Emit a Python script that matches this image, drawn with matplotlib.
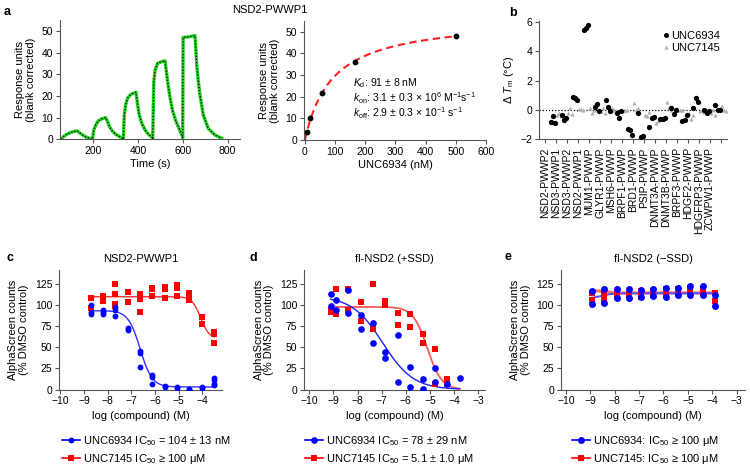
import numpy as np
import matplotlib
matplotlib.use('Agg')
import matplotlib.pyplot as plt
from matplotlib.lines import Line2D

plt.rcParams['font.family'] = ['Liberation Sans', 'DejaVu Sans']
plt.rcParams['font.size'] = 7.5
plt.rcParams['mathtext.fontset'] = 'custom'
plt.rcParams['mathtext.rm'] = 'Liberation Sans'
plt.rcParams['mathtext.it'] = 'Liberation Sans:italic'
plt.rcParams['mathtext.bf'] = 'Liberation Sans:bold'

# ---------------- data ----------------
# panel a (left): SPR sensorgram
spr_time = [56, 66, 81, 100, 121, 129, 141, 156, 170, 193,
            196, 202, 211, 222, 237, 255, 263, 272, 285, 300, 319, 333,
            334, 338, 344, 353, 368, 390, 398, 405, 416, 431, 446, 464,
            465, 470, 476, 487, 505, 520, 528, 535, 543, 553, 568, 583, 598,
            599, 601, 624, 639, 654, 662, 669, 676, 691, 713, 743, 773]
spr_resp = [0.0, 1.2, 2.3, 3.2, 3.8, 3.8, 2.8, 1.7, 0.9, 0.15,
            0.0, 4.3, 6.6, 8.5, 9.4, 10.0, 8.2, 5.8, 3.8, 2.3, 1.1, 0.2,
            0.0, 11.2, 15.8, 19.0, 20.8, 21.7, 15.8, 11.2, 7.4, 4.3, 2.3, 0.8,
            0.0, 26.6, 32.0, 35.0, 35.8, 36.2, 29.7, 24.3, 19.0, 13.5, 8.5, 5.0, 1.2,
            0.5, 47.0, 47.2, 47.5, 47.8, 34.0, 26.6, 20.5, 11.2, 5.0, 2.0, 0.5]

# panel a (right): steady-state binding
conc_nM = [5.6, 17, 55, 167, 500]
resp_eq = [3.8, 10.0, 21.5, 36.0, 48.0]
kd_nM = 91.0
rmax = 56.7

# panel b: thermal shift
b_targets = ['NSD2-PWWP2', 'NSD3-PWWP1', 'NSD3-PWWP2', 'NSD2-PWWP1', 'MUM1-PWWP',
             'GLYR1-PWWP', 'MSH6-PWWP', 'BRPF1-PWWP', 'BRD1-PWWP', 'PSIP-PWWP',
             'DNMT3A-PWWP', 'DNMT3B-PWWP', 'BRPF3-PWWP', 'HDGF2-PWWP', 'HDGFRP3-PWWP',
             'ZCWPW1-PWWP']
b_unc6934 = [[-0.84, -0.45, -0.89], [-0.35, -0.7, -0.55], [0.9, 0.8, 0.7], [5.45, 5.62, 5.78],
             [0.2, 0.4, -0.1], [0.7, 0.2, -0.1], [-0.2, -0.55, -0.1], [-1.3, -1.4, -1.75],
             [-0.2, -1.85, -1.8], [-1.2, -0.55, -0.5], [-0.65, -0.6, -0.55], [0.1, -0.3, 0.0],
             [-0.8, -0.7, -0.35], [0.15, 0.8, 0.55], [-0.05, -0.2, -0.1], [0.3, 0.0, 0.0]]
b_unc7145 = [[-0.35, -0.25, -0.45], [-0.2, 0.1, -0.3], [0.05, 0.05, 0.0], [0.1, -0.25, 0.0],
             [-0.1, 0.1, -0.2], [0.1, 0.0, -0.1], [-0.1, 0.0, -0.05], [0.45, 0.0, 0.15],
             [-0.35, -0.45, -0.15], [-0.9, -0.8, -0.55], [0.55, 0.2, 0.0], [-0.05, -0.05, 0.0],
             [-0.2, -0.6, -0.35], [-0.1, 0.0, -0.15], [-0.2, -0.05, -0.35], [0.25, 0.0, -0.1]]

# panel c: NSD2-PWWP1 AlphaScreen (x positions as read against the axis ticks)
c_logc = [-8.71, -8.19, -7.67, -7.15, -6.63, -6.11, -5.59, -5.07, -4.55, -4.03, -3.51]
c_unc6934 = [[100, 91, 89], [94, 91, 89], [97, 94, 87], [73, 70], [45, 43, 26], [17, 15, 6],
             [4, 3], [3, 2], [0, 1], [2, 3], [14, 11, 7, 5]]
c_unc7145 = [[108, 96], [110, 107, 104], [124, 113, 101, 98], [115, 103], [113, 109, 107, 91],
             [120, 118, 110], [121, 118, 108], [123, 120, 110], [114, 107, 106], [86, 77], [68, 66, 55]]
c_fit6934 = dict(low=93.0, high=3.0, logic50=-6.63, hill=1.73)
c_fit7145 = dict(low=109.5, high=60.0, logic50=-4.08, hill=2.4)

# panel d: fl-NSD2 (+SSD)
d_logc = [-9.12, -8.90, -8.39, -7.88, -7.36, -6.85, -6.34, -5.83, -5.30, -4.79, -4.28, -3.77]
d_unc6934 = [[113, 98], [106, 94], [117, 90], [88, 71], [79, 55], [44, 37], [64, 9], [26, 3],
             [12, 1], [25, 9], [7], [13]]
d_unc7145 = [[94, 92], [119, 89], [119, 94], [103, 81], [125, 71], [105, 102, 100], [90, 76],
             [89, 74], [66, 55], [48, 7], [12, 7], []]
d_fit6934 = dict(low=110.0, high=0.0, logic50=-6.96, hill=0.685)
d_fit7145 = dict(low=97.5, high=0.0, logic50=-5.11, hill=1.47)

# panel e: fl-NSD2 (-SSD)
e_logc = [-8.95, -8.44, -7.92, -7.42, -6.92, -6.42, -5.91, -5.41, -4.90, -4.40, -3.89]
e_unc6934 = [[116, 101], [118, 102], [119, 108], [119, 108], [117, 109], [118, 110], [120, 109],
             [120, 112], [122, 112], [122, 111], [112, 99]]
e_unc7145 = [[114, 106], [113, 109, 105], [115, 111], [113, 111], [116, 109], [116, 111],
             [118, 113], [119, 114], [120, 115], [118, 114], [114, 105]]
e_fit6934 = dict(low=107.5, high=113.5, logic50=-8.54, hill=2.0)
e_fit7145 = dict(low=116.5, high=114.0, logic50=-8.34, hill=3.0)

# ---------------- helpers ----------------
W, H = 750, 468
fig = plt.figure(figsize=(7.5, 4.68), dpi=100)

def add_ax(l, t, r, b):
    ax = fig.add_axes([l / W, 1 - b / H, (r - l) / W, (b - t) / H])
    for s in ('top', 'right'):
        ax.spines[s].set_visible(False)
    for s in ('left', 'bottom'):
        ax.spines[s].set_color('#555555')
        ax.spines[s].set_linewidth(0.8)
    ax.tick_params(direction='out', length=3, width=0.8, color='#555555', pad=2,
                   labelsize=7.5)
    ax.patch.set_alpha(0)
    return ax

def logistic(x, low, high, logic50, hill):
    x = np.asarray(x, dtype=float)
    return high + (low - high) / (1 + 10 ** ((x - logic50) * hill))

def fig_text(x, y, s, **kw):
    return fig.text(x / W, 1 - y / H, s, **kw)

def scatter_groups(ax, xs, groups, **kw):
    px, py = [], []
    for x, g in zip(xs, groups):
        px += [x] * len(g)
        py += list(g)
    ax.plot(px, py, linestyle='none', **kw)

# ---------------- panel a left ----------------
ax = add_ax(60, 20, 240, 139.3)
ax.plot(spr_time, spr_resp, color='#22d422', lw=2.4, solid_joinstyle='round')
ax.plot(spr_time, spr_resp, color='black', lw=0.9, ls=(0, (1, 1.5)))
ax.set_xlim(51, 855)
ax.set_ylim(0, 55)
ax.set_xticks([200, 400, 600, 800])
ax.set_yticks([0, 10, 20, 30, 40, 50])
ax.set_xlabel('Time (s)', fontsize=8, labelpad=2)
ax.set_ylabel('Response units\n(blank corrected)', fontsize=8, labelpad=4, linespacing=1.1)

# ---------------- panel a right ----------------
ax = add_ax(304, 21, 486, 140)
xf = np.linspace(0, 500, 300)
ax.plot(xf, rmax * xf / (kd_nM + xf), color='#ff2020', lw=1.5, ls=(0, (3.5, 2.2)))
ax.plot(conc_nM, resp_eq, 'o', color='black', ms=3.2)
ax.set_xlim(-3, 600)
ax.set_ylim(0, 55)
ax.set_xticks([0, 100, 200, 300, 400, 500, 600])
ax.set_yticks([0, 10, 20, 30, 40, 50])
ax.set_xlabel('UNC6934 (nM)', fontsize=8, labelpad=2)
ax.set_ylabel('Response units\n(blank corrected)', fontsize=8, labelpad=4, linespacing=1.1)
kin_text = ('$K_\\mathrm{d}$: 91 ± 8 nM\n'
            '$k_\\mathrm{on}$: 3.1 ± 0.3 × 10$^{6}$ M$^{-1}$s$^{-1}$\n'
            '$k_\\mathrm{off}$: 2.9 ± 0.3 × 10$^{-1}$ s$^{-1}$')
fig_text(353, 99, kin_text, fontsize=7.5, va='center', ha='left', linespacing=1.0)
fig_text(270, 10, 'NSD2-PWWP1', fontsize=8, ha='center', va='center')

# ---------------- panel b ----------------
ax = add_ax(539, 21, 727, 139)
n = len(b_targets)
pos = np.arange(n)
off_black = [0.5, 0.7, 0.9]
off_gray = [1.05, 1.25, 1.45]
bx, by, gx, gy = [], [], [], []
for i in range(n):
    for o, v in zip(off_black, b_unc6934[i]):
        bx.append(pos[i] + o); by.append(v)
    for o, v in zip(off_gray, b_unc7145[i]):
        gx.append(pos[i] + o); gy.append(v)
ax.axhline(0, color='black', lw=0.9, ls=(0, (1, 1.5)), zorder=1)
ax.plot(gx, gy, '^', color='#b0b0b0', ms=3.0, mew=0, zorder=2)
ax.plot(bx, by, 'o', color='black', ms=3.8, mew=0, zorder=3)
ax.set_xlim(-0.55, n + 0.55)
ax.set_ylim(-2, 6.07)
ax.set_yticks([-2, 0, 2, 4, 6])
ax.set_yticklabels(['−2', '0', '2', '4', '6'])
ax.set_xticks(np.arange(n + 1))
ax.set_xticklabels(b_targets + [''], rotation=90, fontsize=7.5)
ax.tick_params(axis='x', pad=3)
ax.set_ylabel('Δ $T_\\mathrm{m}$ (°C)', fontsize=8, labelpad=3)
leg_h = [Line2D([], [], marker='o', color='black', ls='none', ms=3.6, mew=0),
         Line2D([], [], marker='^', color='#b0b0b0', ls='none', ms=3.0, mew=0)]
ax.legend(leg_h, ['UNC6934', 'UNC7145'], loc='upper right', bbox_to_anchor=(1.0, 0.97),
          frameon=False, fontsize=8, handlelength=0.6, handletextpad=0.2,
          labelspacing=0.15, borderaxespad=0.2)

# ---------------- panels c, d, e ----------------
def dose_panel(l, r, title, xs, blue, red, fitb, fitr, xlim, xticks,
               leg_labels, leg_x, blue_ms, red_ms, lw_b, lw_r, col_b, col_r):
    ax = add_ax(l, 270, r, 389.5)
    x0 = min(xs); x1 = max(xs)
    xf = np.linspace(x0, x1, 300)
    ax.plot(xf, logistic(xf, **fitr), color=col_r, lw=lw_r, zorder=2)
    ax.plot(xf, logistic(xf, **fitb), color=col_b, lw=lw_b, zorder=2)
    scatter_groups(ax, xs[:len(red)], red, marker='s', color='#ff0000', ms=red_ms, mew=0, zorder=3)
    scatter_groups(ax, xs[:len(blue)], blue, marker='o', color='#0000ff', ms=blue_ms, mew=0, zorder=4)
    ax.set_xlim(*xlim)
    ax.set_ylim(0, 141)
    ax.set_yticks([0, 25, 50, 75, 100, 125])
    ax.set_xticks(xticks)
    ax.set_xticklabels(['−%d' % (-t) for t in xticks])
    ax.set_xlabel('log (compound) (M)', fontsize=8, labelpad=3)
    ax.set_ylabel('AlphaScreen counts\n(% DMSO control)', fontsize=8, labelpad=4, linespacing=1.1)
    ax.set_title(title, fontsize=8, pad=6)
    hb = Line2D([], [], color='#0000ff', marker='o', ms=blue_ms, mew=0, lw=1.2)
    hr = Line2D([], [], color='#ff0000', marker='s', ms=red_ms, mew=0, lw=1.2)
    fig.legend([hb, hr], leg_labels, loc='upper left',
               bbox_to_anchor=(leg_x / W, 1 - 434 / H), frameon=False, fontsize=8,
               handlelength=1.6, handletextpad=0.3, labelspacing=0.35, borderaxespad=0,
               borderpad=0)
    return ax

dose_panel(59.3, 221.7, 'NSD2-PWWP1', c_logc, c_unc6934, c_unc7145, c_fit6934, c_fit7145,
           (-10.04, -3.19), [-10, -9, -8, -7, -6, -5, -4],
           ['UNC6934 IC$_{50}$ = 104 ± 13 nM', 'UNC7145 IC$_{50}$ ≥ 100 μM'], 62,
           4.2, 3.8, 1.0, 1.0, '#3030ff', '#ff3030')
dose_panel(304.3, 485, 'fl-NSD2 (+SSD)', d_logc, d_unc6934, d_unc7145, d_fit6934, d_fit7145,
           (-10.21, -2.72), [-10, -9, -8, -7, -6, -5, -4, -3],
           ['UNC6934 IC$_{50}$ = 78 ± 29 nM', 'UNC7145 IC$_{50}$ = 5.1 ± 1.0 μM'], 305,
           4.8, 4.8, 1.0, 1.3, '#2020ff', '#ff5a5a')
dose_panel(561, 745, 'fl-NSD2 (−SSD)', e_logc, e_unc6934, e_unc7145, e_fit6934, e_fit7145,
           (-10.2, -2.66), [-10, -9, -8, -7, -6, -5, -4, -3],
           ['UNC6934: IC$_{50}$ ≥ 100 μM', 'UNC7145: IC$_{50}$ ≥ 100 μM'], 572,
           5.0, 5.0, 1.4, 2.2, '#5050ff', '#ff7070')

# panel letters
for x, y, s in [(7, 12, 'a'), (513, 13, 'b'), (10, 258, 'c'), (253, 258, 'd'), (508, 257, 'e')]:
    fig_text(x, y, s, fontsize=9, fontweight='bold', va='center', ha='center')

fig.savefig('out.png', dpi=100)
